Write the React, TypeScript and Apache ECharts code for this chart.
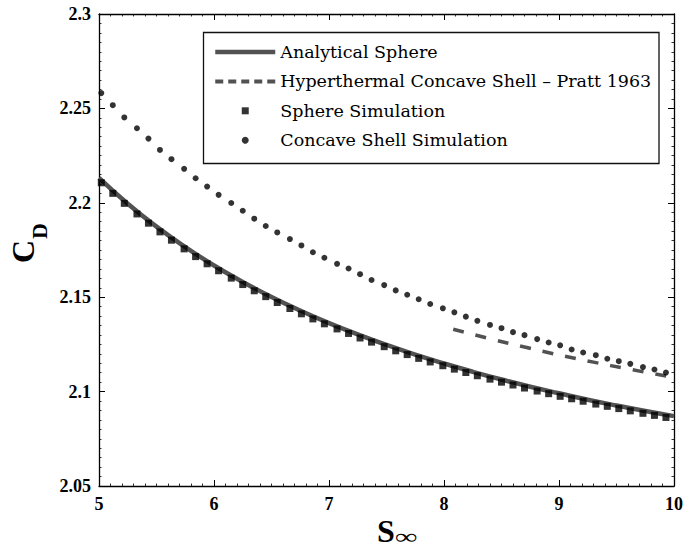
import React, { useEffect, useRef } from "react";
import * as echarts from "echarts";

// Simulation speed ratios (shared by both simulation series)
const simX = [5.02, 5.12, 5.22, 5.33, 5.43, 5.53, 5.63, 5.74, 5.84, 5.94, 6.04, 6.15, 6.25, 6.35, 6.45, 6.55, 6.66, 6.76, 6.86, 6.96, 7.07, 7.17, 7.27, 7.37, 7.48, 7.58, 7.68, 7.78, 7.88, 7.99, 8.09, 8.19, 8.29, 8.4, 8.5, 8.6, 8.7, 8.81, 8.91, 9.01, 9.11, 9.21, 9.32, 9.42, 9.52, 9.62, 9.73, 9.83, 9.93];
const sphereSim = [2.2106, 2.205, 2.1997, 2.1941, 2.1892, 2.1846, 2.1802, 2.1756, 2.1715, 2.1677, 2.164, 2.1601, 2.1567, 2.1534, 2.1503, 2.1472, 2.144, 2.1412, 2.1385, 2.1359, 2.1332, 2.1308, 2.1284, 2.1262, 2.1238, 2.1216, 2.1196, 2.1176, 2.1157, 2.1137, 2.1119, 2.1101, 2.1084, 2.1066, 2.105, 2.1035, 2.1019, 2.1003, 2.0989, 2.0975, 2.0962, 2.0949, 2.0934, 2.0922, 2.091, 2.0898, 2.0885, 2.0874, 2.0863];
const shellSim = [2.2581, 2.2517, 2.2452, 2.2395, 2.234, 2.228, 2.2231, 2.218, 2.213, 2.2086, 2.2042, 2.1999, 2.1958, 2.1916, 2.1877, 2.1843, 2.1808, 2.1774, 2.1738, 2.1709, 2.1677, 2.1652, 2.1622, 2.1591, 2.1564, 2.1536, 2.1513, 2.1489, 2.1464, 2.1441, 2.142, 2.1397, 2.1375, 2.1353, 2.1336, 2.1315, 2.1299, 2.1278, 2.126, 2.1245, 2.1223, 2.1207, 2.1193, 2.1174, 2.1161, 2.1147, 2.113, 2.1117, 2.1101];

// Analytical sphere curve
const analyticX = [5, 5.25, 5.5, 5.75, 6, 6.25, 6.5, 6.75, 7, 7.25, 7.5, 7.75, 8, 8.25, 8.5, 8.75, 9, 9.25, 9.5, 9.75, 10];
const analyticY = [2.2132, 2.1995, 2.1874, 2.1766, 2.1668, 2.1581, 2.1501, 2.1429, 2.1363, 2.1303, 2.1247, 2.1196, 2.1149, 2.1105, 2.1064, 2.1026, 2.0991, 2.0957, 2.0926, 2.0897, 2.087];

// Hyperthermal concave shell (Pratt 1963)
const prattX = [8.08, 8.4, 8.7, 9.0, 9.3, 9.6, 10];
const prattY = [2.133, 2.128, 2.1236, 2.1194, 2.1156, 2.112, 2.1075];

const seriesNames = [
  "Analytical Sphere",
  "Hyperthermal Concave Shell \u2013 Pratt 1963",
  "Sphere Simulation",
  "Concave Shell Simulation",
];

const zip = (xs: number[], ys: number[]) => xs.map((x, i) => [x, ys[i]]);

const TICK_FONT = "'Liberation Serif', 'Times New Roman', serif";
const LEGEND_FONT = "'DejaVu Serif', serif";
const GRAY = "#525252";

const axisCommon = (showLabel: boolean, isY: boolean) => ({
  type: "value" as const,
  axisLine: { show: true, onZero: false, lineStyle: { color: "#000", width: 1.3 } },
  axisTick: { show: true, inside: true, length: 6, lineStyle: { color: "#000", width: 1 } },
  minorTick: { show: true, splitNumber: 10, length: 2.5, lineStyle: { color: "#000", width: 0.8 } },
  splitLine: { show: false },
  minorSplitLine: { show: false },
  axisLabel: {
    show: showLabel,
    color: "#000",
    fontFamily: TICK_FONT,
    fontWeight: "bold" as const,
    fontSize: 18,
    margin: isY ? 8 : 9,
  },
});

export default function App() {
  const ref = useRef<HTMLDivElement>(null);
  useEffect(() => {
    const chart = echarts.init(ref.current!, null, { renderer: "svg" });
    chart.setOption({
      animation: false,
      backgroundColor: "#fff",
      grid: { left: 99, right: 11, top: 14, bottom: 64 },
      xAxis: [
        { ...axisCommon(true, false), position: "bottom", min: 5, max: 10, interval: 1 },
        { ...axisCommon(false, false), position: "top", min: 5, max: 10, interval: 1 },
      ],
      yAxis: [
        { ...axisCommon(true, true), position: "left", min: 2.05, max: 2.3, interval: 0.05 },
        { ...axisCommon(false, true), position: "right", min: 2.05, max: 2.3, interval: 0.05 },
      ],
      legend: {
        orient: "vertical",
        left: 213,
        top: 42,
        padding: 0,
        itemWidth: 60,
        itemHeight: 7,
        itemGap: 9.4,
        selectedMode: false,
        symbolKeepAspect: true,
        textStyle: { fontFamily: LEGEND_FONT, fontSize: 17.5, color: "#000", lineHeight: 20 },
        data: [
          { name: seriesNames[0], itemStyle: { opacity: 0 }, lineStyle: { width: 4.5, color: GRAY } },
          { name: seriesNames[1], itemStyle: { opacity: 0 }, lineStyle: { type: [8, 5], width: 4, color: GRAY } },
          { name: seriesNames[2], icon: "path://M0,0H10V10H0Z", itemStyle: { color: "#000" } },
          { name: seriesNames[3], icon: "circle", itemStyle: { color: "#000" } },
        ],
      },
      graphic: [
        {
          type: "rect",
          shape: { x: 203.5, y: 32.5, width: 455.5, height: 131 },
          style: { fill: "none", stroke: "#111", lineWidth: 1.3 },
          z: 10,
        },
        {
          type: "group",
          x: 0,
          y: 263,
          rotation: Math.PI / 2,
          children: [
            {
              type: "text",
              style: { text: "C", x: 0, y: 22.5, align: "left", verticalAlign: "middle", fontFamily: TICK_FONT, fontWeight: "bold", fontSize: 32, fill: "#000" },
            },
            {
              type: "text",
              style: { text: "D", x: 24, y: 39, align: "left", verticalAlign: "middle", fontFamily: TICK_FONT, fontWeight: "bold", fontSize: 22, fill: "#000" },
            },
          ],
        },
        {
          type: "text",
          style: { text: "S", x: 377, y: 531, align: "left", verticalAlign: "middle", fontFamily: TICK_FONT, fontWeight: "bold", fontSize: 32, fill: "#000" },
        },
        {
          type: "text",
          x: 395,
          y: 537,
          scaleX: 1.4,
          style: { text: "\u221E", x: 0, y: 0, align: "left", verticalAlign: "middle", fontFamily: TICK_FONT, fontWeight: "bold", fontSize: 22, fill: "#000" },
        },
      ],
      series: [
        {
          name: seriesNames[0],
          type: "line",
          data: zip(analyticX, analyticY),
          smooth: true,
          symbol: "none",
          lineStyle: { color: GRAY, width: 4.5 },
          itemStyle: { color: GRAY },
          z: 2,
        },
        {
          name: seriesNames[1],
          type: "line",
          data: zip(prattX, prattY),
          smooth: true,
          symbol: "none",
          lineStyle: { color: GRAY, width: 3.5, type: [11, 12] },
          itemStyle: { color: GRAY },
          z: 2,
        },
        {
          name: seriesNames[2],
          type: "scatter",
          data: zip(simX, sphereSim),
          symbol: "rect",
          symbolSize: 7,
          itemStyle: { color: "#000" },
          z: 3,
        },
        {
          name: seriesNames[3],
          type: "scatter",
          data: zip(simX, shellSim),
          symbol: "circle",
          symbolSize: 6,
          itemStyle: { color: "#000" },
          z: 3,
        },
      ],
    });
    return () => chart.dispose();
  }, []);
  return (
    <div
      ref={ref}
      style={{ position: "fixed", left: 0, top: 0, width: 686, height: 550, background: "#fff" }}
    />
  );
}
